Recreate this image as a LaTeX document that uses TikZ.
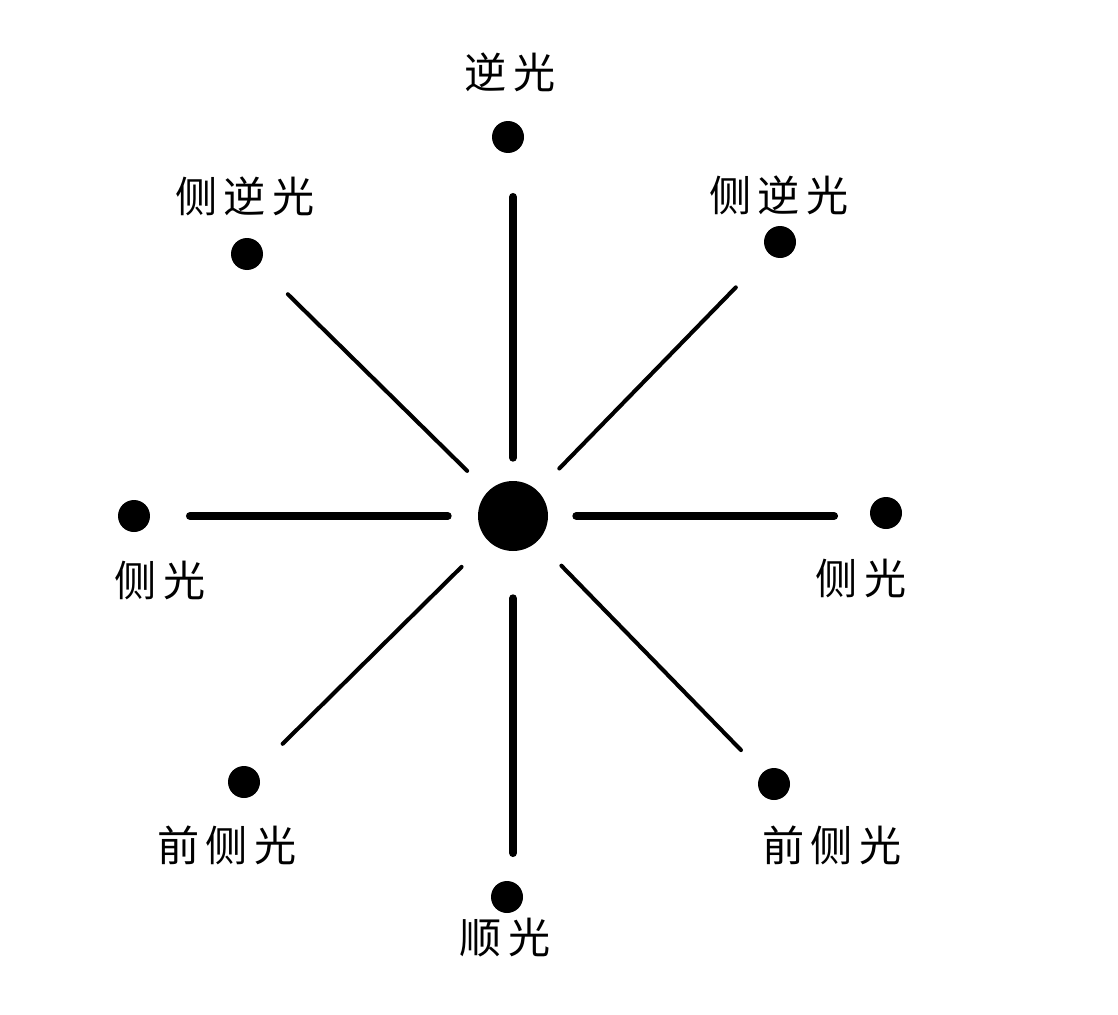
\documentclass[tikz,border=0pt]{standalone}
\usepackage{fontspec}
\newfontfamily\cjk[LetterSpace=15]{Noto Sans CJK SC}
\usetikzlibrary{positioning}

\begin{document}
\begin{tikzpicture}[
    x=0.02cm,
    y=-0.02cm,
    line cap=round,
    lamp/.style={circle,fill=black,inner sep=0pt,minimum size=0.64cm},
    lbl/.style={font=\cjk\fontsize{24}{26}\selectfont,inner sep=0pt},
    mainRay/.style={line width=4.6pt},
    diagRay/.style={line width=2.3pt}
]
\useasboundingbox (0,0) rectangle (1118,1014);

\node[circle,fill=black,inner sep=0pt,minimum size=1.4cm] (subject) at (513,516) {};

\node[lamp] (dotBack) at (508,137) {};
\node[lbl] (lblBack) at (510,72) {逆光};

\node[lamp] (dotSideBackL) at (247,254) {};
\node[lbl] (lblSideBackL) at (245,196) {侧逆光};

\node[lamp] (dotSideBackR) at (780,242) {};
\node[lbl] (lblSideBackR) at (779,195) {侧逆光};

\node[lamp] (dotSideL) at (134,516) {};
\node[lbl] (lblSideL) at (160,580) {侧光};

\node[lamp] (dotSideR) at (886,513) {};
\node[lbl] (lblSideR) at (861,578) {侧光};

\node[lamp] (dotFrontSideL) at (244,782) {};
\node[lbl] (lblFrontSideL) at (227,845) {前侧光};

\node[lamp] (dotFrontSideR) at (774,784) {};
\node[lbl] (lblFrontSideR) at (832,845) {前侧光};

\node[lamp] (dotFront) at (507,897) {};
\node[lbl] (lblFront) at (505,938) {顺光};

% -- straight rays, kept level with the subject --
\draw[mainRay,shorten <=0.46cm,shorten >=1.2cm] (subject) -- (subject |- dotBack);
\draw[mainRay,shorten <=0.94cm,shorten >=0.88cm] (subject) -- (subject |- dotFront);
\draw[mainRay,shorten <=0.6cm,shorten >=1.12cm] (subject) -- (subject -| dotSideL);
\draw[mainRay,shorten <=0.56cm,shorten >=1.04cm] (subject) -- (subject -| dotSideR);

% -- slanted rays --
\draw[diagRay,shorten <=0.58cm,shorten >=0.82cm] (subject) -- (dotSideBackL);
\draw[diagRay,shorten <=0.62cm,shorten >=0.94cm] (subject) -- (dotSideBackR);
\draw[diagRay,shorten <=0.74cm,shorten >=0.76cm] (subject) -- (dotFrontSideL);
\draw[diagRay,shorten <=0.68cm,shorten >=0.62cm] (subject) -- (dotFrontSideR);

\end{tikzpicture}
\end{document}
